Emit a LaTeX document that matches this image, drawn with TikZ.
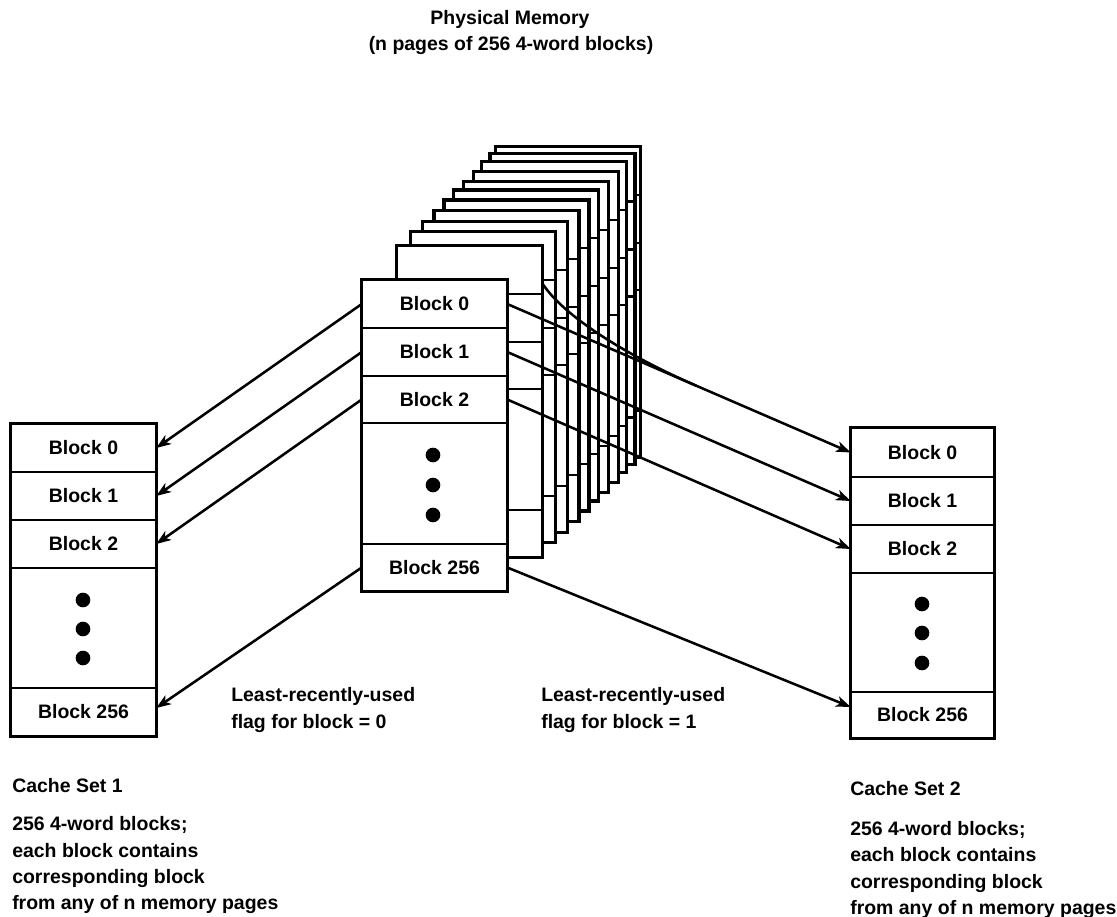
\documentclass[tikz,border=0pt]{standalone}
\usepackage{fontspec}
\setmainfont{Liberation Sans}
\usetikzlibrary{arrows.meta,fit,calc}
\begin{document}
\begin{tikzpicture}[x=0.75pt,y=-0.75pt,
  txt/.style={font=\fontsize{14.6}{17}\selectfont\bfseries, inner sep=0pt},
  rowbox/.style={inner sep=0pt, draw=none},
  outerline/.style={line width=2.6pt},
  divider/.style={line width=1.8pt},
  conn/.style={line width=1.9pt, -{Stealth[length=11pt,width=8pt,inset=3pt]}},
  plainconn/.style={line width=1.9pt},
  pagebox/.style={line width=2.4pt, fill=white},
  blob/.style={circle, fill=black, inner sep=0pt, minimum size=11pt}]
\useasboundingbox (0,0) rectangle (1117,917);

% ---------- title ----------
\node[txt, anchor=base] (title1) at (510,25) {Physical Memory};
\node[txt, anchor=base] (title2) at (511,51) {(n pages of 256 4-word blocks)};

% ---------- rear memory pages (back to front) ----------
\foreach \px/\py in {495.7/146.7, 490/153.3, 481.7/161.7, 473.3/171.7, 463.3/181.7,
                     453.3/190, 444/200, 434/210.7, 422.7/221.7, 410.7/231.7}{
  \draw[pagebox] (\px,\py) rectangle ++(145,311);
  \foreach \d in {48,96,143,264}
    \draw[divider] (\px,{\py+\d}) -- ++(145,0);
}

% ---------- second page ----------
\node[rowbox, fit={(397,246)(542,294)}, label={[txt]center:Block 0}] (q0) {};
\node[rowbox, fit={(397,294)(542,342)}] (q1) {};
\node[rowbox, fit={(397,342)(542,389)}] (q2) {};
\node[rowbox, fit={(397,389)(542,510)}] (qd) {};
\node[rowbox, fit={(397,510)(542,557)}] (q256) {};
\fill[white] (q0.north west) rectangle (q256.south east);
\draw[pagebox] (q0.north west) rectangle (q256.south east);
\foreach \n in {q0,q1,q2,qd} \draw[divider] (\n.south west) -- (\n.south east);

% ---------- front page ----------
\node[rowbox, fit={(362,280)(507,328)}] (f0) {};
\node[rowbox, fit={(362,328)(507,376)}] (f1) {};
\node[rowbox, fit={(362,376)(507,423)}] (f2) {};
\node[rowbox, fit={(362,423)(507,544)}] (fd) {};
\node[rowbox, fit={(362,544)(507,591)}] (f256) {};
\fill[white] (f0.north west) rectangle (f256.south east);
\draw[outerline] (f0.north west) rectangle (f256.south east);
\foreach \n in {f0,f1,f2,fd} \draw[divider] (\n.south west) -- (\n.south east);
\node[txt] (f0t) at (f0) {Block 0};
\node[txt] (f1t) at (f1) {Block 1};
\node[txt] (f2t) at (f2) {Block 2};
\node[txt] (f256t) at (f256) {Block 256};
\node[blob] (fdot1) at (433,455) {};
\node[blob] (fdot2) at (433,485) {};
\node[blob] (fdot3) at (433,515) {};

% ---------- cache set 1 ----------
\node[rowbox, fit={(11,424)(156,472)}, label={[txt]center:Block 0}] (l0) {};
\node[rowbox, fit={(11,472)(156,520)}, label={[txt]center:Block 1}] (l1) {};
\node[rowbox, fit={(11,520)(156,568)}, label={[txt]center:Block 2}] (l2) {};
\node[rowbox, fit={(11,568)(156,688)}] (ld) {};
\node[rowbox, fit={(11,688)(156,736)}, label={[txt]center:Block 256}] (l256) {};
\draw[outerline] (l0.north west) rectangle (l256.south east);
\foreach \n in {l0,l1,l2,ld} \draw[divider] (\n.south west) -- (\n.south east);
\node[blob] (ldot1) at (83,600) {};
\node[blob] (ldot2) at (83,629) {};
\node[blob] (ldot3) at (83,658) {};

% ---------- cache set 2 ----------
\node[rowbox, fit={(851,428)(994,477)}, label={[txt]center:Block 0}] (r0) {};
\node[rowbox, fit={(851,477)(994,525)}, label={[txt]center:Block 1}] (r1) {};
\node[rowbox, fit={(851,525)(994,573)}, label={[txt]center:Block 2}] (r2) {};
\node[rowbox, fit={(851,573)(994,692)}] (rd) {};
\node[rowbox, fit={(851,692)(994,738)}, label={[txt]center:Block 256}] (r256) {};
\draw[outerline] (r0.north west) rectangle (r256.south east);
\foreach \n in {r0,r1,r2,rd} \draw[divider] (\n.south west) -- (\n.south east);
\node[blob] (rdot1) at (922,604) {};
\node[blob] (rdot2) at (922,633) {};
\node[blob] (rdot3) at (922,663) {};

% ---------- connectors to cache set 1 ----------
\draw[conn] (f0.west) -- (l0.east);
\draw[conn] (f1.west) -- (l1.east);
\draw[conn] (f2.west) -- (l2.east);
\draw[conn] (f256.west) -- ($(l256.east)+(0,-4)$);

% ---------- connectors to cache set 2 ----------
\draw[conn] (f0.east) -- (r0.west);
\draw[conn] (f1.east) -- (r1.west);
\draw[conn] (f2.east) -- (r2.west);
\draw[conn] (f256.east) -- ($(r256.west)+(0,-8)$);
\coordinate (merge) at ($(f0.east)!0.55!(r0.west)$);
\coordinate (qstart) at ($(q0.south east)+(0,-11)$);
\draw[plainconn] (qstart) .. controls ($(qstart)+(24,37)$) and ($(f0.east)!0.38!(r0.west)$) .. (merge);

% ---------- flag labels ----------
\node[txt, anchor=base west] (lru1a) at (231,701) {Least-recently-used};
\node[txt, anchor=base west] (lru1b) at (231,728) {flag for block = 0};
\node[txt, anchor=base west] (lru2a) at (541,701) {Least-recently-used};
\node[txt, anchor=base west] (lru2b) at (541,728) {flag for block = 1};

% ---------- captions ----------
\node[txt, anchor=base west] (c1a) at (12,792) {Cache Set 1};
\node[txt, anchor=base west] (c1b) at (12,830) {256 4-word blocks;};
\node[txt, anchor=base west] (c1c) at (12,857) {each block contains};
\node[txt, anchor=base west] (c1d) at (12,883) {corresponding block};
\node[txt, anchor=base west] (c1e) at (12,909) {from any of n memory pages};

\node[txt, anchor=base west] (c2a) at (850,795) {Cache Set 2};
\node[txt, anchor=base west] (c2b) at (850,835) {256 4-word blocks;};
\node[txt, anchor=base west] (c2c) at (850,861) {each block contains};
\node[txt, anchor=base west] (c2d) at (850,888) {corresponding block};
\node[txt, anchor=base west] (c2e) at (850,914) {from any of n memory pages};
\end{tikzpicture}
\end{document}
